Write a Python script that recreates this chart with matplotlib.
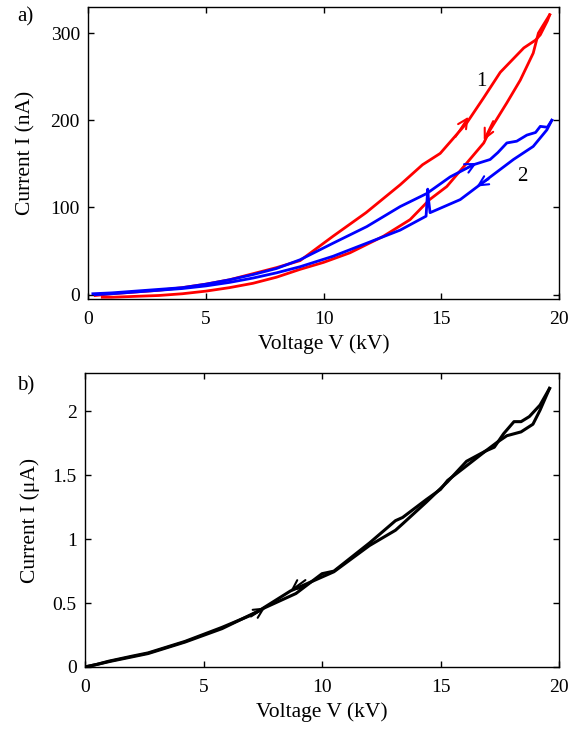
import matplotlib
matplotlib.use('Agg')
import numpy as np
import matplotlib.pyplot as plt

plt.rcParams['font.family'] = ['Liberation Serif', 'DejaVu Serif']
plt.rcParams['font.size'] = 14
plt.rcParams['axes.linewidth'] = 1.0

# panel a), curve 1 (red): rising and falling branch
red_up_v = [0.3, 1.0, 2.0, 3.0, 4.0, 5.0, 6.0, 7.0, 8.0, 9.0, 10.4, 11.8, 13.25, 14.2, 14.95, 16.08, 16.8, 17.5, 18.5, 19.0, 19.2, 19.5, 19.6]
red_up_i = [-1, 1, 3, 5, 8, 12, 17, 24, 31, 39, 67, 94, 126, 149, 162, 197, 226, 255, 283, 292, 298, 314, 321]
red_dn_v = [19.6, 19.3, 19.12, 18.9, 18.35, 17.78, 17.07, 16.8, 16.08, 15.23, 14.5, 13.67, 12.54, 11.12, 10.0, 9.0, 8.0, 7.0, 6.0, 5.0, 4.0, 3.0, 2.0, 1.0, 0.6]
red_dn_i = [321, 308, 300, 277, 246, 220, 189, 174, 151, 124, 109, 86, 67, 48, 37, 29, 20, 13, 8, 4, 1, -1, -2, -3, -3]

# panel a), curve 2 (blue)
blue_up_v = [0.2, 1.0, 2.0, 3.0, 4.0, 5.0, 6.0, 7.0, 8.0, 9.0, 10.4, 11.83, 13.25, 14.38, 15.37, 16.36, 17.07, 17.4, 17.78, 18.2, 18.63, 19.0, 19.2, 19.5, 19.69]
blue_up_i = [1, 2, 4, 6, 8, 12, 17, 23, 30, 40, 59, 78, 101, 116, 135, 149, 155, 163, 174, 176, 183, 186, 193, 192, 200]
blue_dn_v = [19.69, 19.48, 18.9, 18.06, 16.93, 15.8, 14.52, 14.45, 14.42, 14.35, 13.25, 11.83, 10.4, 9.0, 8.0, 7.0, 6.0, 5.0, 4.0, 3.0, 2.0, 1.0, 0.3]
blue_dn_i = [200, 189, 170, 155, 132, 109, 94, 110, 121, 90, 74, 59, 44, 32, 25, 19, 14, 10, 7, 5, 3, 1, 0]

# panel b) (black), in uA
blk_up_v = [0, 0.5, 1.0, 2.0, 2.66, 4.22, 5.0, 5.78, 7.0, 7.6, 8.9, 10.0, 10.5, 12.0, 13.1, 13.4, 14.4, 15.0, 15.3, 16.0, 16.9, 17.27, 17.66, 18.1, 18.4, 18.75, 19.2, 19.6]
blk_up_i = [0, 0.02, 0.045, 0.085, 0.11, 0.20, 0.255, 0.31, 0.405, 0.465, 0.575, 0.73, 0.75, 0.97, 1.145, 1.17, 1.31, 1.39, 1.46, 1.56, 1.69, 1.72, 1.825, 1.92, 1.92, 1.96, 2.05, 2.18]
blk_dn_v = [19.6, 19.2, 18.9, 18.4, 17.8, 17.4, 16.9, 16.1, 15.3, 14.4, 13.4, 13.1, 12.0, 10.5, 8.67, 7.34, 5.78, 4.22, 2.66, 1.09, 0.5, 0]
blk_dn_i = [2.18, 2.01, 1.90, 1.84, 1.81, 1.76, 1.69, 1.61, 1.45, 1.29, 1.12, 1.07, 0.95, 0.745, 0.595, 0.44, 0.30, 0.195, 0.105, 0.045, 0.02, 0]

red = '#ff0000'
blue = '#0000ff'


def arrow(ax, tip, tail, color):
    ax.annotate('', xy=tip, xytext=tail,
                arrowprops=dict(arrowstyle='->', color=color, lw=1.5, mutation_scale=17,
                                shrinkA=0, shrinkB=0))


def style(ax):
    ax.tick_params(direction='in', length=4, width=1, top=True, right=True)
    ax.tick_params(axis='x', pad=9)
    ax.tick_params(axis='y', pad=6)
    ax.set_xlim(0, 20)
    ax.set_xticks([0, 5, 10, 15, 20])
    ax.set_xlabel('Voltage V (kV)', fontsize=15.5, labelpad=4)


fig = plt.figure(figsize=(5.8, 7.31), dpi=100)

ax1 = fig.add_axes([0.152, 0.591, 0.812, 0.3995])
ax1.plot(red_up_v, red_up_i, color=red, lw=2)
ax1.plot(red_dn_v, red_dn_i, color=red, lw=2)
ax1.plot(blue_up_v, blue_up_i, color=blue, lw=2)
ax1.plot(blue_dn_v, blue_dn_i, color=blue, lw=2)
arrow(ax1, (16.15, 204), (15.6, 181), red)
arrow(ax1, (16.8, 177), (17.2, 199), red)
arrow(ax1, (16.5, 151), (16.0, 144), blue)
arrow(ax1, (16.5, 124), (17.0, 132.5), blue)
ax1.text(16.7, 244, '1', ha='center', va='center', fontsize=15)
ax1.text(18.45, 135, '2', ha='center', va='center', fontsize=15)
ax1.set_ylim(-5, 330)
ax1.set_yticks([0, 100, 200, 300])
ax1.set_ylabel('Current I (nA)', fontsize=15.5, labelpad=11)
style(ax1)
fig.text(0.03, 0.977, 'a)', ha='left', va='center', fontsize=15)

ax2 = fig.add_axes([0.1466, 0.0876, 0.8172, 0.402])
ax2.plot(blk_up_v, blk_up_i, color='black', lw=2.2)
ax2.plot(blk_dn_v, blk_dn_i, color='black', lw=2.2)
arrow(ax2, (7.6, 0.465), (7.0, 0.395), 'black')
arrow(ax2, (8.67, 0.595), (9.3, 0.68), 'black')
ax2.set_ylim(0, 2.3)
ax2.set_yticks([0, 0.5, 1, 1.5, 2])
ax2.set_yticklabels(['0', '0.5', '1', '1.5', '2'])
ax2.set_ylabel('Current I (\u03bcA)', fontsize=15.5, labelpad=9)
style(ax2)
fig.text(0.03, 0.472, 'b)', ha='left', va='center', fontsize=15)

plt.savefig('out.png', dpi=100)
